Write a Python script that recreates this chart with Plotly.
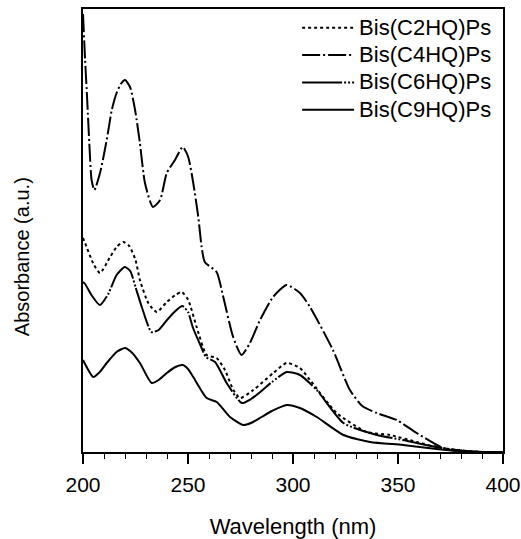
import plotly.graph_objects as go

# Bis(C4HQ)Ps (top curve)
wl_c4 = [200.0, 201.0, 202.0, 203.0, 204.1, 205.4, 208.1, 211.3, 213.7, 216.0, 218.0, 220.0, 222.4,
         224.8, 227.1, 229.5, 233.3, 236.7, 239.9, 243.8, 247.5, 250.1, 252.5, 254.9, 256.5,
         258.0, 263.6, 266.8, 271.5, 275.5, 279.5, 284.3, 290.5, 297.0, 303.3, 308.1, 319.0,
         327.1, 333.0, 339.9, 349.4, 358.9, 371.4, 381.0, 400.0]
ab_c4 = [438, 392, 352, 309, 272, 262, 279, 312, 342, 359, 368, 372, 365,
         342, 309, 269, 245, 252, 279, 292, 305, 295, 269, 235, 205,
         190, 180, 155, 115, 97, 109, 132, 155, 167, 159, 145, 102,
         62, 46, 39, 32, 19, 4, 0, 0]

# Bis(C2HQ)Ps (dotted)
wl_c2 = [200.0, 201.0, 205.0, 208.1, 212.9, 216.0, 219.2, 222.0, 225.0, 227.1, 231.1, 235.1, 239.9,
         244.0, 247.0, 250.1, 254.1, 258.9, 263.6, 267.6, 271.6, 274.8, 281.1, 290.6, 297.0,
         303.3, 308.1, 320.8, 335.1, 346.2, 358.9, 368.4, 377.9, 390.0, 400.0]
ab_c2 = [214, 209, 188, 179, 195, 205, 210, 206, 192, 172, 149, 140, 150,
         157, 160, 152, 125, 97, 94, 82, 62, 54, 62, 79, 89,
         84, 72, 39, 20, 17, 10, 5, 2, 0, 0]

# Bis(C6HQ)Ps (middle curve)
wl_c6 = [200.0, 201.0, 204.0, 208.0, 212.0, 216.0, 219.9, 222.5, 225.0, 228.0, 232.6, 236.0,
         240.0, 244.0, 247.3, 250.0, 252.4, 256.3, 258.5, 262.9, 268.4, 275.6, 280.0, 285.0,
         290.0, 297.0, 303.3, 311.3, 324.0, 339.9, 352.4, 368.4, 377.9, 390.0, 400.0]
ab_c6 = [170, 168, 157, 147, 158, 177, 185, 181, 165, 145, 120, 122,
         132, 141, 146, 140, 124, 105, 95, 90, 69, 49, 53, 61,
         70, 80, 77, 62, 29, 17, 12, 5, 2, 0, 0]

# Bis(C9HQ)Ps (bottom curve)
wl_c9 = [200.0, 202.0, 204.9, 208.0, 211.3, 216.0, 220.0, 223.0, 227.1, 232.7, 236.0, 239.9,
         244.0, 247.5, 250.0, 252.5, 258.9, 263.7, 270.0, 276.3, 280.0, 285.0, 290.0, 297.0,
         303.3, 311.3, 324.0, 336.7, 352.4, 368.4, 377.9, 390.0, 400.0]
ab_c9 = [92, 84, 75, 80, 89, 100, 104, 100, 89, 69, 72, 79,
         85, 87, 83, 75, 54, 50, 35, 27, 29, 35, 41, 47,
         44, 35, 17, 10, 7, 3, 1, 0, 0]

x_ticks = [200, 250, 300, 350, 400]
x_tick_labels = ["200", "250", "300", "350", "400"]

series = [
    ("Bis(C2HQ)Ps", wl_c2, ab_c2, "dot"),
    ("Bis(C4HQ)Ps", wl_c4, ab_c4, "18px,3px,2px,3px"),
    ("Bis(C6HQ)Ps", wl_c6, ab_c6, "40px,2px,2px,2px,2px,2px"),
    ("Bis(C9HQ)Ps", wl_c9, ab_c9, "solid"),
]

font_family = "Arial, Liberation Sans, sans-serif"

fig = go.Figure()
for i, (name, xs, ys, dash) in enumerate(series):
    fig.add_trace(go.Scatter(
        x=xs, y=ys, mode="lines",
        name=f'<span style="font-size:22px">{name}</span>',
        legendgroup=f"g{i}",
        line=dict(color="black", width=2, dash=dash, shape="spline", smoothing=0.6),
    ))

fig.update_layout(
    width=521, height=539, autosize=False,
    margin=dict(l=83, r=18, t=9, b=87, autoexpand=False),
    paper_bgcolor="white", plot_bgcolor="white",
    font=dict(family=font_family, color="black", size=16),
    showlegend=True,
    legend=dict(
        x=0.986, y=0.999, xanchor="right", yanchor="top",
        bgcolor="rgba(0,0,0,0)", borderwidth=0,
        font=dict(size=18, family=font_family, color="black"),
        tracegroupgap=1, traceorder="grouped", itemwidth=52,
    ),
    xaxis=dict(
        range=[200, 400], showline=True, linecolor="black", linewidth=2, mirror=True,
        showgrid=False, zeroline=False, automargin=False,
        tickmode="array", tickvals=x_ticks, ticktext=x_tick_labels,
        ticks="outside", ticklen=10, tickwidth=1.5, tickcolor="black",
        ticklabelstandoff=3,
        tickfont=dict(size=21, family=font_family, color="black"),
        minor=dict(dtick=10, ticks="outside", ticklen=5, tickwidth=1, tickcolor="black"),
        title=dict(text="Wavelength (nm)", font=dict(size=22, family=font_family), standoff=30),
    ),
    yaxis=dict(
        range=[0, 443], showline=True, linecolor="black", linewidth=2, mirror=True,
        showgrid=False, zeroline=False, showticklabels=False, ticks="", automargin=False,
    ),
    annotations=[dict(
        text="Absorbance (a.u.)", xref="paper", yref="paper",
        x=-0.145, y=0.44, xanchor="center", yanchor="middle",
        textangle=-90, showarrow=False,
        font=dict(size=20, family=font_family, color="black"),
    )],
)

fig.write_html(
    "out.html",
    config={"responsive": False, "displayModeBar": False},
    post_script="document.body.style.margin='0';document.body.style.overflow='hidden';",
)
